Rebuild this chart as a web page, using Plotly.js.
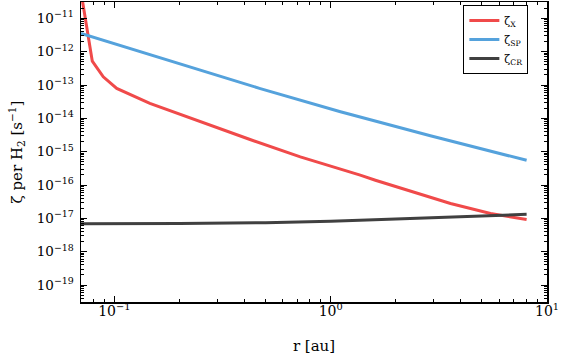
<!DOCTYPE html>
<html>
<head>
<meta charset="utf-8">
<script src="https://cdn.plot.ly/plotly-3.0.1.min.js"></script>
<style>html,body{margin:0;padding:0;background:#fff}</style>
</head>
<body>
<div id="chart" style="width:566px;height:356px"></div>
<script>
// Ionisation rate per H2 molecule as a function of disc radius

// X-ray ionisation
const rX = [0.0702, 0.0791, 0.0889, 0.1026, 0.146, 0.249, 0.424, 0.724, 1.17, 1.37, 1.61, 2.6, 3.58, 5.48, 8.05];
const zetaX = [6e-11, 5.2e-13, 1.76e-13, 7.9e-14, 2.8e-14, 7.85e-15, 2.32e-15, 6.98e-16, 2.78e-16, 1.97e-16, 1.39e-16, 5.2e-17, 2.78e-17, 1.39e-17, 9.2e-18];

// Stellar energetic particles
const rSP = [0.0702, 0.163, 0.473, 1.11, 2.89, 8.05];
const zetaSP = [3.55e-12, 6.65e-13, 7.8e-14, 1.58e-14, 3.0e-15, 5.5e-16];

// Galactic cosmic rays
const rCR = [0.0702, 0.2, 0.5, 1.0, 2.0, 4.0, 8.05];
const zetaCR = [6.9e-18, 6.95e-18, 7.4e-18, 8.2e-18, 9.6e-18, 1.12e-17, 1.32e-17];

const seriesNames = ['ζ<sub>X</sub>', 'ζ<sub>SP</sub>', 'ζ<sub>CR</sub>'];
const seriesColors = ['#f04a4a', '#55a2dc', '#404040'];

// Axis tick labels
const xTickVals = [0.1, 1, 10];
const xTickText = ['10<sup>−1</sup>', '10<sup>0</sup>', '10<sup>1</sup>'];
const yExponents = [-11, -12, -13, -14, -15, -16, -17, -18, -19];

const yTickVals = yExponents.map(e => Math.pow(10, e));
const yTickText = yExponents.map(e => '10<sup>−' + Math.abs(e) + '</sup>');

// minor ticks at 2..9 within each decade
function minorTicks(eLo, eHi) {
  const out = [];
  for (let e = eLo; e <= eHi; e++) {
    for (let k = 2; k <= 9; k++) out.push(k * Math.pow(10, e));
  }
  return out;
}

const font = {family: '"DejaVu Serif", "Liberation Serif", serif', color: '#000'};

const traces = [
  {x: rX, y: zetaX},
  {x: rSP, y: zetaSP},
  {x: rCR, y: zetaCR}
].map((d, i) => ({
  x: d.x, y: d.y, type: 'scatter', mode: 'lines',
  name: seriesNames[i],
  line: {color: seriesColors[i], width: 3}
}));

const axisCommon = {
  type: 'log',
  showgrid: false, zeroline: false,
  showline: true, linecolor: '#000', linewidth: 1.5,
  mirror: 'allticks',
  ticks: 'inside', ticklen: 6, tickwidth: 1, tickcolor: '#000',
  tickmode: 'array'
};

const layout = {
  width: 566, height: 356,
  margin: {l: 81, r: 19, t: 2, b: 54},
  paper_bgcolor: '#fff', plot_bgcolor: '#fff',
  font: font,
  showlegend: true,
  legend: {
    x: 0.96, y: 0.99, xanchor: 'right', yanchor: 'top',
    bgcolor: '#fff', bordercolor: '#000', borderwidth: 1,
    font: Object.assign({size: 11}, font),
    tracegroupgap: 0
  },
  xaxis: Object.assign({}, axisCommon, {
    range: [-1.154, 1.0],
    tickvals: xTickVals, ticktext: xTickText,
    tickfont: Object.assign({size: 14}, font),
    ticklabelstandoff: -4,
    minor: {tickmode: 'array', tickvals: minorTicks(-2, 0), ticks: 'inside', ticklen: 3, tickwidth: 1, tickcolor: '#000', showgrid: false},
    title: {text: 'r [au]', font: Object.assign({size: 15}, font), standoff: 22}
  }),
  yaxis: Object.assign({}, axisCommon, {
    range: [-19.51, -10.51],
    tickvals: yTickVals, ticktext: yTickText,
    tickfont: Object.assign({size: 13.5}, font),
    ticklabelstandoff: 3,
    minor: {tickmode: 'array', tickvals: minorTicks(-20, -11), ticks: 'inside', ticklen: 3, tickwidth: 1, tickcolor: '#000', showgrid: false},
    title: {text: 'ζ per H<sub>2</sub> [s<sup>−1</sup>]', font: Object.assign({size: 15}, font), standoff: 10}
  })
};

Plotly.newPlot('chart', traces, layout, {displayModeBar: false, staticPlot: true});
</script>
</body>
</html>
